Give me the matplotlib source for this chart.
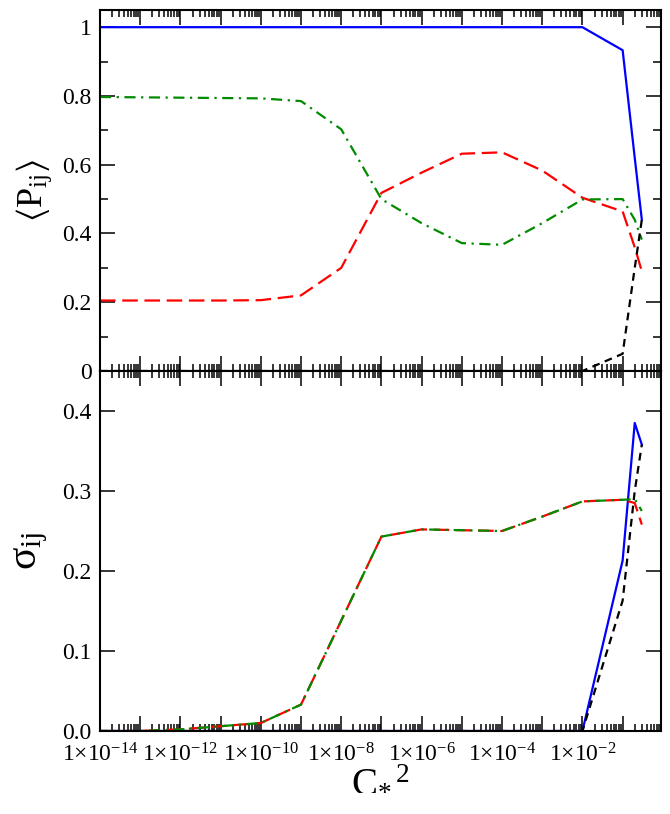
import numpy as np
import matplotlib
matplotlib.use("Agg")
import matplotlib.pyplot as plt
from matplotlib.ticker import FixedLocator, FuncFormatter, NullFormatter

plt.rcParams['font.family'] = ['Liberation Serif', 'DejaVu Serif']
plt.rcParams['mathtext.fontset'] = 'custom'
plt.rcParams['mathtext.rm'] = 'Liberation Serif'
plt.rcParams['mathtext.it'] = 'Liberation Serif:italic'
plt.rcParams['mathtext.fallback'] = 'stix'

# ---- data ----
c2 = [1e-14, 1e-13, 1e-12, 1e-11, 1e-10, 1e-9, 1e-8, 1e-7, 1e-6, 1e-5,
      1e-4, 1e-3, 1e-2, 1e-1, 0.2, 0.3]

P_blue = [1.0, 1.0, 1.0, 1.0, 1.0, 1.0, 1.0, 1.0, 1.0, 1.0,
          1.0, 1.0, 1.0, 0.933, 0.62, 0.44]
P_red = [0.205, 0.205, 0.205, 0.205, 0.206, 0.220, 0.300, 0.518, 0.577, 0.632,
         0.636, 0.583, 0.504, 0.464, 0.36, 0.29]
P_green = [0.797, 0.796, 0.795, 0.794, 0.793, 0.785, 0.703, 0.500, 0.430, 0.372,
           0.367, 0.430, 0.499, 0.500, 0.44, 0.382]
P_black = [0.0, 0.0, 0.0, 0.0, 0.0, 0.0, 0.0, 0.0, 0.0, 0.0,
           0.0, 0.0, 0.0, 0.050, 0.30, 0.44]

S_blue = [0.0, 0.0, 0.0, 0.0, 0.0, 0.0, 0.0, 0.0, 0.0, 0.0,
          0.0, 0.0, 0.0, 0.213, 0.385, 0.358]
S_black = [0.0, 0.0, 0.0, 0.0, 0.0, 0.0, 0.0, 0.0, 0.0, 0.0,
           0.0, 0.0, 0.0, 0.163, 0.30, 0.358]
S_red = [0.0, 0.0, 0.002, 0.006, 0.010, 0.033, 0.138, 0.243, 0.252, 0.251,
         0.250, 0.268, 0.287, 0.289, 0.285, 0.258]
S_green = [0.0, 0.0, 0.002, 0.006, 0.010, 0.033, 0.138, 0.243, 0.252, 0.251,
           0.250, 0.268, 0.287, 0.289, 0.290, 0.275]

xmajor = [10.0 ** e for e in range(-14, 1)]

top_yticks = [0, 0.2, 0.4, 0.6, 0.8, 1.0]
top_yticklabels = ['0', '0.2', '0.4', '0.6', '0.8', '1']
bot_yticks = [0.0, 0.1, 0.2, 0.3, 0.4]
bot_yticklabels = ['0.0', '0.1', '0.2', '0.3', '0.4']

BLUE = '#0000ff'
RED = '#ff0000'
GREEN = '#008b00'
BLACK = '#000000'
lw = 1.6

fig = plt.figure(figsize=(6.7, 8.14), dpi=100)
L, R = 100 / 670, 661 / 670
y_top, y_mid, y_bot = 1 - 10 / 814, 1 - 371 / 814, 1 - 731 / 814
ax1 = fig.add_axes([L, y_mid, R - L, y_top - y_mid])
ax2 = fig.add_axes([L, y_bot, R - L, y_mid - y_bot])

for ax in (ax1, ax2):
    ax.set_xscale('log')
    ax.set_xlim(1e-14, 0.9)

# top panel
ax1.plot(c2, P_blue, color=BLUE, lw=lw)
l, = ax1.plot(c2, P_red, color=RED, lw=lw); l.set_dashes([7, 3])
l, = ax1.plot(c2, P_green, color=GREEN, lw=lw); l.set_dashes([5, 2.5, 1, 2.5])
l, = ax1.plot(c2, P_black, color=BLACK, lw=lw); l.set_dashes([3.5, 2.5])
ax1.set_ylim(0, 1.05)

# bottom panel
ax2.plot(c2, S_blue, color=BLUE, lw=lw)
l, = ax2.plot(c2, S_black, color=BLACK, lw=lw); l.set_dashes([3.5, 2.5])
l, = ax2.plot(c2, S_red, color=RED, lw=lw); l.set_dashes([7, 3])
l, = ax2.plot(c2, S_green, color=GREEN, lw=lw); l.set_dashes([5, 2.5, 1, 2.5])
ax2.set_ylim(0, 0.45)

minors = [m * 10.0 ** e for e in range(-14, 0) for m in range(2, 10)]

def xfmt(v, pos):
    e = int(round(np.log10(v)))
    if e % 2 == 0 and e <= -2:
        return r'1$\times$10$^{\mathrm{%d}}$' % e
    return ''

for ax in (ax1, ax2):
    ax.xaxis.set_major_locator(FixedLocator(xmajor))
    ax.xaxis.set_minor_locator(FixedLocator(minors))
    ax.xaxis.set_minor_formatter(NullFormatter())
    ax.tick_params(axis='both', which='both', direction='in', top=True, right=True,
                   width=1.1, labelsize=17)
    ax.tick_params(axis='x', which='major', length=11)
    ax.tick_params(axis='x', which='minor', length=5)
    ax.tick_params(axis='y', which='major', length=11, pad=6)
    ax.tick_params(axis='y', which='minor', length=5.5)
    for s in ax.spines.values():
        s.set_linewidth(1.5)

ax1.xaxis.set_major_formatter(NullFormatter())
ax2.xaxis.set_major_formatter(FuncFormatter(xfmt))
ax2.tick_params(axis='x', which='major', pad=9)

ax1.set_yticks(top_yticks)
ax1.set_yticklabels(top_yticklabels)
ax1.yaxis.set_minor_locator(FixedLocator([0.1, 0.3, 0.5, 0.7, 0.9]))
ax2.set_yticks(bot_yticks)
ax2.set_yticklabels(bot_yticklabels)

ax1.set_ylabel(r'$\left\langle \mathrm{P}_{\mathrm{ij}} \right\rangle$', fontsize=26)
ax2.set_ylabel(r'σ$_{\mathrm{ij}}$', fontsize=30)
ax1.yaxis.set_label_coords(-0.082, 0.5)
ax2.yaxis.set_label_coords(-0.09, 0.5)
ax2.set_xlabel(r'C$_{*}{}^{\,2}$', fontsize=28)
ax2.xaxis.set_label_coords(0.5, -0.085)

fig.savefig('out.png', dpi=100)
